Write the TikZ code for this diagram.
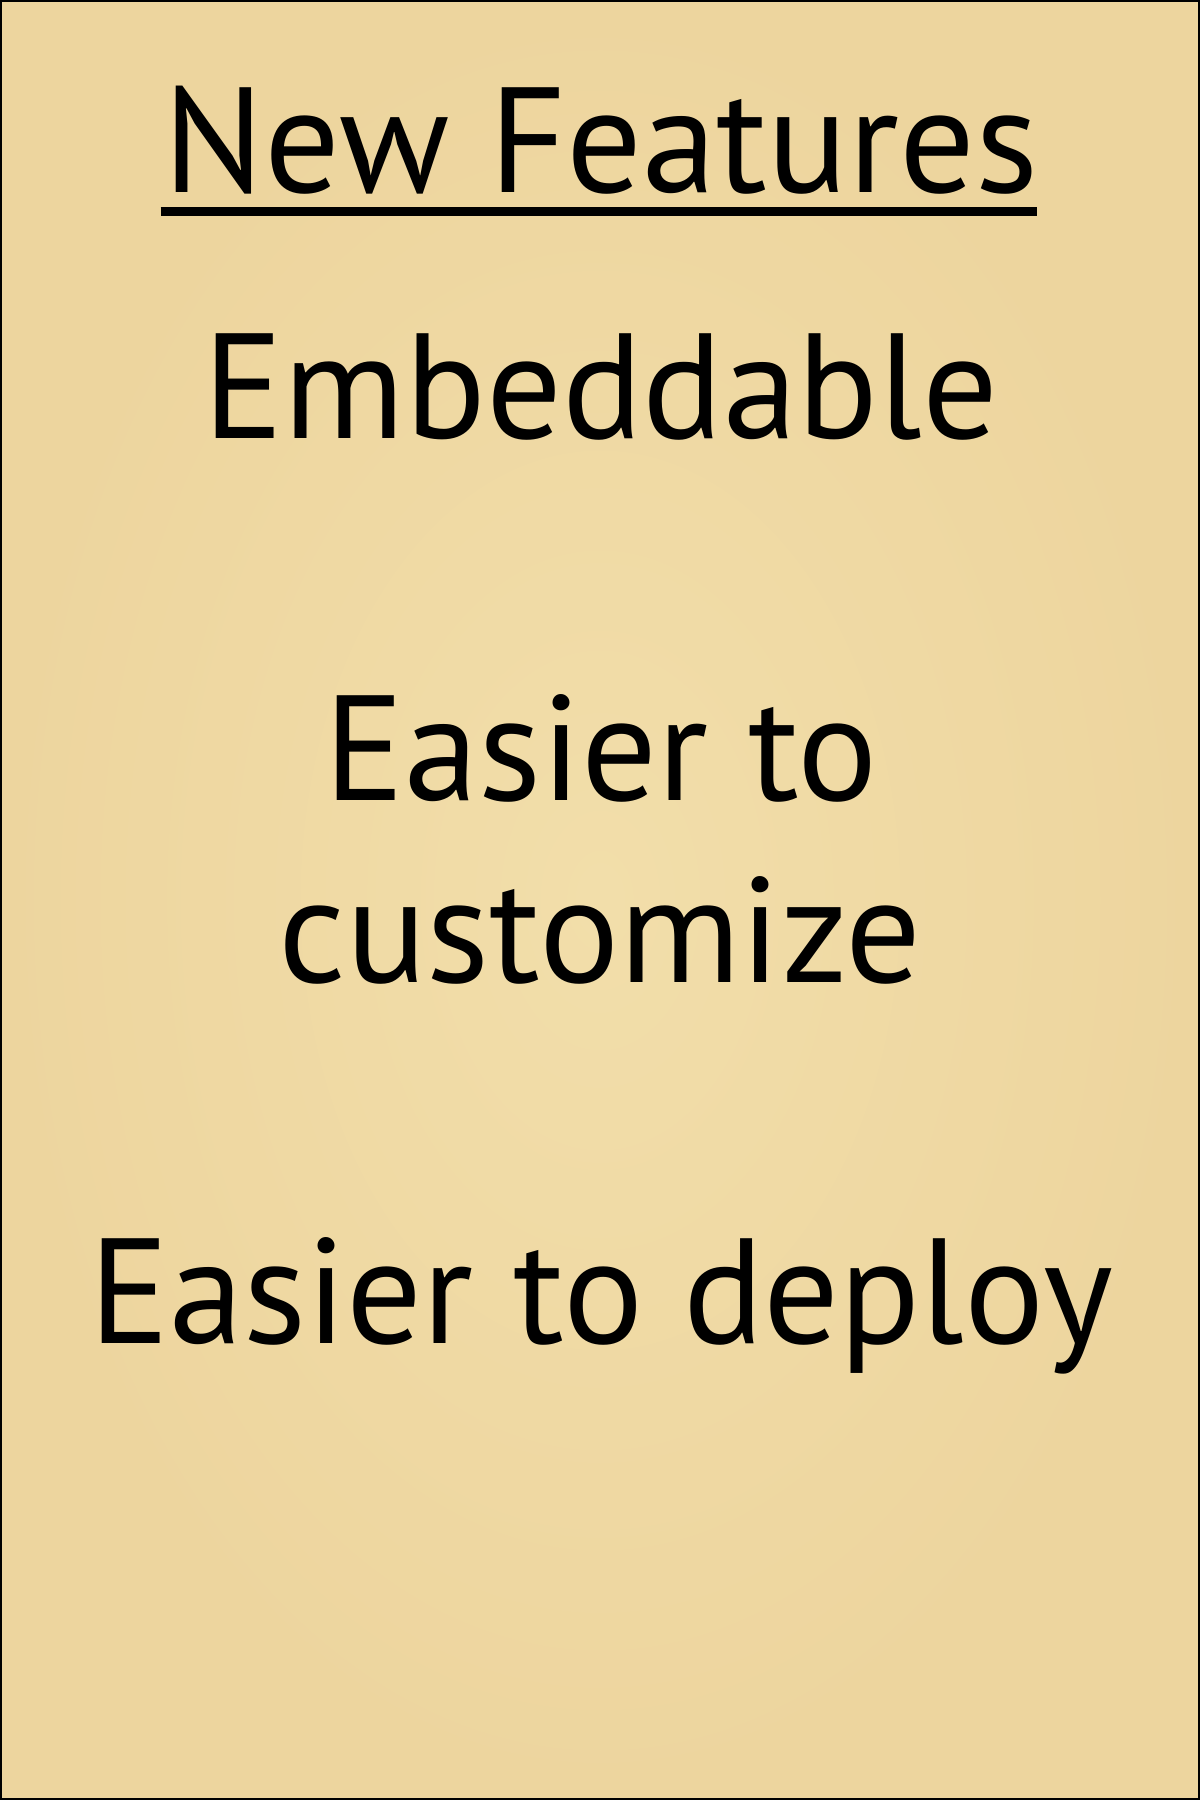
\documentclass[tikz,border=0pt]{standalone}
\usepackage{fontspec}
\setmainfont{PT Sans}
\definecolor{paper}{RGB}{237,213,158}
\definecolor{paperlight}{RGB}{242,222,170}
\tikzset{
  txt/.style={anchor=base, inner sep=0pt, font=\fontsize{42.6}{50}\selectfont, text=black},
}
\begin{document}
\begin{tikzpicture}
\useasboundingbox (0,0) rectangle (12,-18);
\shade[inner color=paperlight, outer color=paper] (0,0) rectangle (12,-18);
\draw[line width=0.02cm, black] (0.01,-0.01) rectangle (11.99,-17.99);
\node[txt] (title) at (6.01,-1.92) {New Features};
\coordinate (ulA) at (1.605,-2.11);
\coordinate (ulB) at (10.37,-2.11);
\draw[line width=0.09cm] (ulA) -- (ulB);
\node[txt] (embed) at (6.01,-4.38) {Embeddable};
\node[txt] (cust1) at (6.01,-8.00) {Easier to};
\node[txt] (cust2) at (6.00,-9.82) {customize};
\node[txt] (deploy) at (6.01,-13.43) {Easier to deploy};
\end{tikzpicture}
\end{document}
